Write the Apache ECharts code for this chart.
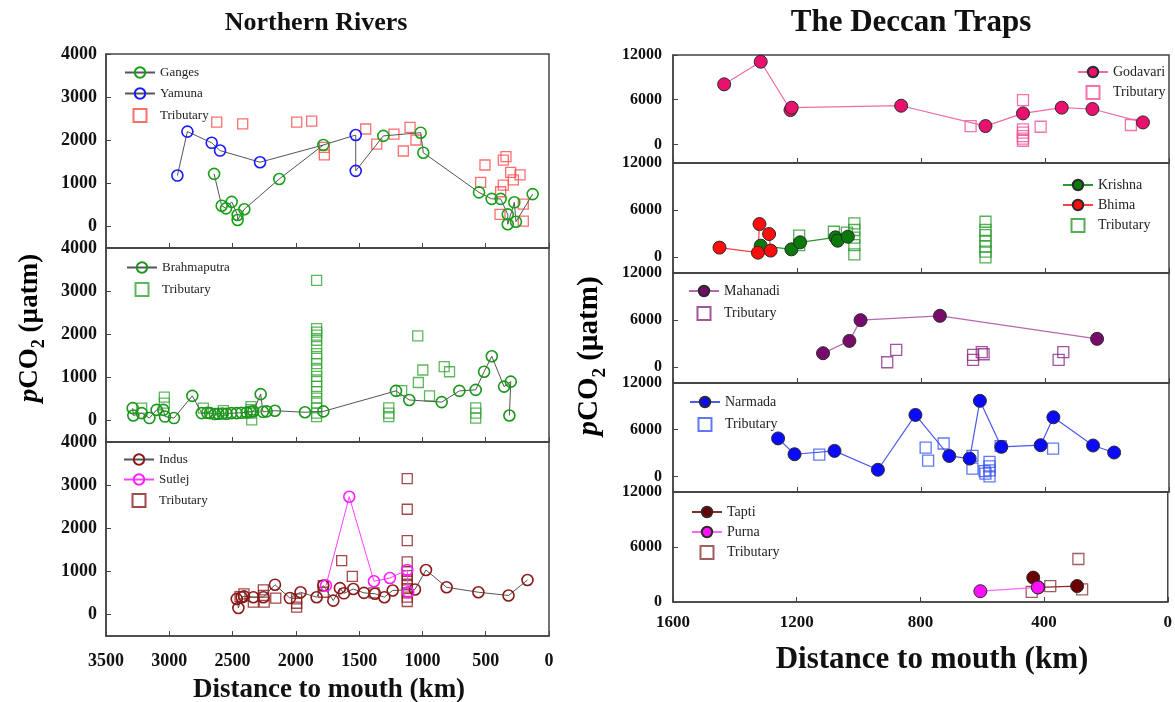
<!DOCTYPE html>
<html>
<head>
<meta charset="utf-8">
<script src="https://cdn.jsdelivr.net/npm/echarts@6/dist/echarts.min.js"></script>
<style>html,body{margin:0;padding:0;background:#fff;}#c{width:1175px;height:702px;}</style>
</head>
<body>
<div id="c"></div>
<script>
// ---------- DATA: [distance to mouth (km), pCO2 (µatm)] ----------
const gangesUpper = [[2646,1220],[2586,480],[2552,420],[2507,570],[2460,265],[2460,150],[2407,400],[2131,1100],[1783,1890]];
const gangesLower = [[1309,2100],[1014,2175],[993,1710],[553,790],[453,640],[382,640],[326,280],[326,50],[274,560],[261,110],[129,750]];
const yamuna = [[2936,1180],[2857,2200],[2665,1940],[2599,1760],[2283,1490]];
const yamunaJunctionUp = [1783,1890];
const yamunaLower = [[1527,2120],[1527,1290]];
const yamunaJunctionDown = [1309,2100];
const gangesTrib = [[2625,2420],[2420,2380],[1993,2420],[1875,2445],[1775,1835],[1775,1660],[1448,2260],[1361,1910],[1225,2140],[1151,1750],[1098,2300],[1051,2005],[540,1020],[506,1425],[382,805],[361,960],[340,1620],[361,1540],[303,1255],[229,1195],[282,1080],[387,280],[203,520],[203,125]];

const brahmaputra = [[3289,285],[3284,115],[3218,170],[3157,55],[3100,245],[3047,245],[3034,90],[2963,55],[2818,570],[2744,170],[2700,180],[2678,170],[2640,150],[2612,155],[2580,160],[2547,155],[2510,170],[2468,170],[2430,180],[2389,185],[2360,200],[2336,210],[2278,610],[2260,200],[2231,210],[2165,225],[1928,190],[1783,210],[1209,685],[1104,475],[848,425],[708,685],[579,710],[513,1130],[452,1490],[355,785],[302,900],[313,115]];
const brahTrib = [[3218,285],[3039,540],[3039,400],[2731,285],[2573,230],[2354,320],[2354,250],[2354,170],[2349,15],[1836,3250],[1836,2130],[1836,2050],[1836,1980],[1836,1860],[1836,1710],[1836,1550],[1836,1440],[1836,1320],[1836,1170],[1836,1020],[1836,900],[1836,790],[1836,670],[1836,520],[1836,400],[1836,290],[1836,170],[1836,90],[1266,290],[1266,170],[1266,90],[1164,690],[1037,1960],[1032,880],[997,1170],[944,570],[828,1250],[786,1130],[579,290],[579,170],[579,55]];

const indus = [[2467,360],[2454,150],[2428,400],[2410,420],[2336,400],[2257,400],[2165,690],[2047,380],[1963,515],[1836,400],[1783,670],[1704,320],[1652,610],[1620,490],[1546,590],[1462,500],[1375,480],[1301,400],[1235,555],[1059,580],[972,1030],[809,630],[558,515],[320,440],[170,800]];
const sutlej = [[1762,670],[1578,2730],[1383,770],[1257,845],[1120,1030],[1112,515]];
const indusTrib = [[2441,415],[2410,475],[2336,285],[2257,570],[2254,440],[2250,285],[2159,380],[1994,360],[1994,260],[1994,170],[1783,670],[1783,515],[1638,1250],[1554,885],[1383,500],[1120,3150],[1120,2440],[1120,1710],[1120,1220],[1120,1000],[1120,900],[1120,800],[1120,700],[1120,600],[1120,500],[1120,400],[1120,300]];

const godavari = [[1435,8060],[1317,11100],[1221,4610],[1217,4930],[864,5190],[592,2460],[471,4160],[346,4930],[247,4750],[84,2950]];
const godavariTrib = [[640,2460],[471,5950],[471,2010],[471,1570],[471,1120],[471,760],[471,490],[414,2370],[123,2600]];

const krishna = [[1317,1480],[1218,1010],[1190,1900],[1076,2540],[1069,2110],[1036,2620]];
const bhima = [[1450,1230],[1326,590],[1321,4230],[1290,2960],[1285,850]];
const krishnaTrib = [[1193,2750],[1193,1560],[1081,3250],[1039,3130],[1015,4310],[1015,3470],[1015,2490],[1015,1560],[1015,380],[592,4520],[592,3470],[592,2830],[592,1990],[592,1350],[592,720],[592,0]];

const mahanadi = [[1116,1790],[1031,3360],[995,6000],[739,6550],[232,3620]];
const mahanadiTrib = [[909,640],[880,2210],[632,940],[632,1570],[604,1920],[598,1660],[356,940],[341,1920]];

const narmada = [[1261,4880],[1208,2850],[1079,3280],[939,860],[818,7900],[709,2630],[643,2290],[610,9710],[541,3800],[414,4010],[373,7600],[245,3970],[177,3070]];
const narmadaTrib = [[1128,2810],[785,3710],[777,2030],[727,4230],[634,2630],[634,990],[595,690],[579,1860],[579,1300],[579,780],[579,0],[592,350],[543,3890],[374,3580]];

const tapti = [[435,2660],[419,1600],[293,1740]];
const purna = [[606,1180],[420,1590]];
const taptiTrib = [[440,1110],[380,1740],[289,4690],[277,1370]];

const leftTicksX = [0,500,1000,1500,2000,2500,3000,3500];
const leftTicksY = [0,1000,2000,3000,4000];
const rightTicksX = [0,400,800,1200,1600];
const rightTicksY = [0,6000,12000];

// ---------- LAYOUT ----------
const FONT = "'Liberation Serif','Times New Roman',serif";
const leftGrids = [{top:54,height:194},{top:248,height:194},{top:442,height:194}];
const rightGrids = [{top:55,height:108},{top:163,height:110},{top:273,height:110},{top:383,height:109},{top:492,height:110}];
const rightMins = [-2500,-2000,-2000,-2000,0];
const plain = v => String(v);

const grid = [], xAxis = [], yAxis = [];
function addPanel(g, left, width, xMax, xTicks, yMin, yMax, yTicks, showX, xfs, yfs, xMargin, yMargin){
  grid.push({left, width, top:g.top, height:g.height, show:true, borderColor:'#444', borderWidth:1.5, backgroundColor:'transparent'});
  const gi = grid.length-1;
  xAxis.push({type:'value', gridIndex:gi, position:'bottom', min:0, max:xMax, inverse:true,
    axisLine:{show:true, onZero:false, lineStyle:{color:'#444', width:1.5}},
    axisTick:{show:true, inside:true, length:5, customValues:xTicks, lineStyle:{color:'#444'}},
    axisLabel:{show:showX, customValues:xTicks, formatter:plain, fontFamily:FONT, fontWeight:'bold', fontSize:xfs, color:'#111', margin:xMargin},
    splitLine:{show:false}});
  yAxis.push({type:'value', gridIndex:gi, position:'left', min:yMin, max:yMax,
    axisLine:{show:true, onZero:false, lineStyle:{color:'#444', width:1.5}},
    axisTick:{show:true, inside:true, length:5, customValues:yTicks, lineStyle:{color:'#444'}},
    axisLabel:{customValues:yTicks, formatter:plain, fontFamily:FONT, fontWeight:'bold', fontSize:yfs, color:'#111', margin:yMargin},
    splitLine:{show:false}});
}
leftGrids.forEach((g,i)=> addPanel(g, 106, 443, 3500, leftTicksX, -500, 4000, leftTicksY, i===2, 18, 18, 16, 9));
rightGrids.forEach((g,i)=> addPanel(g, 673, 496, 1600, rightTicksX, rightMins[i], 12000, rightTicksY, i===4, 17, 16, 12, 11));

// ---------- SERIES helpers ----------
function hollowLine(name, idx, data, color, lineColor){
  return {name, type:'line', xAxisIndex:idx, yAxisIndex:idx, data, symbol:'circle', symbolSize:11,
    itemStyle:{color:'rgba(0,0,0,0)', borderColor:color, borderWidth:1.6},
    lineStyle:{color:lineColor, width:1}, connectNulls:false, emphasis:{disabled:true}, z:3};
}
function hollowSq(name, idx, data, color, size){
  return {name, type:'scatter', xAxisIndex:idx, yAxisIndex:idx, data, symbol:'rect', symbolSize:size||10,
    itemStyle:{color:'rgba(0,0,0,0)', borderColor:color, borderWidth:1.3}, emphasis:{disabled:true}, z:2};
}
function filledLine(name, idx, data, color, lineColor){
  return {name, type:'line', xAxisIndex:idx, yAxisIndex:idx, data, symbol:'circle', symbolSize:13,
    itemStyle:{color:color, borderColor:'#2a2a2a', borderWidth:1},
    lineStyle:{color:lineColor, width:1.2}, emphasis:{disabled:true}, z:3};
}

const GRAY = '#555';
const yamunaFull = yamuna.concat([{value:yamunaJunctionUp, symbol:'none'}], yamunaLower, [{value:yamunaJunctionDown, symbol:'none'}]);
const gangesFull = gangesUpper.concat([['-','-']], gangesLower);

const series = [
  hollowSq('Tributary#1', 0, gangesTrib, '#ff4a4a'),
  hollowLine('Ganges', 0, gangesFull, '#18a018', GRAY),
  hollowLine('Yamuna', 0, yamunaFull, '#1a1aff', GRAY),

  hollowSq('Tributary#2', 1, brahTrib, '#35a535'),
  hollowLine('Brahmaputra', 1, brahmaputra, '#1a961a', GRAY),

  hollowSq('Tributary#3', 2, indusTrib, '#8b1c1c'),
  hollowLine('Indus', 2, indus, '#8b1a1a', GRAY),
  hollowLine('Sutlej', 2, sutlej, '#ff1eff', '#ff40ff'),

  hollowSq('Tributary#4', 3, godavariTrib, '#f0509a', 11),
  filledLine('Godavari', 3, godavari, '#e8126e', '#f06aa6'),

  hollowSq('Tributary#5', 4, krishnaTrib, '#2a9a2a', 11),
  filledLine('Krishna', 4, krishna, '#0a7a0a', '#2a9a2a'),
  filledLine('Bhima', 4, bhima, '#ff0d0d', '#ff4040'),

  hollowSq('Tributary#6', 5, mahanadiTrib, '#8a2a86', 11),
  filledLine('Mahanadi', 5, mahanadi, '#780a6c', '#b46aac'),

  hollowSq('Tributary#7', 6, narmadaTrib, '#3a55f0', 11),
  filledLine('Narmada', 6, narmada, '#0a0aff', '#4a5aee'),

  hollowSq('Tributary#8', 7, taptiTrib, '#8b3535', 11),
  filledLine('Tapti', 7, tapti, '#6a0000', '#8b2a2a'),
  filledLine('Purna', 7, purna, '#ff10ff', '#ff66ff')
];

const SQ = 'path://M0,0L10,0L10,10L0,10Z';
function lg(left, top, names, fs, ih, gap){
  const data = names.map(n => n.startsWith('Tributary') ? {name:n, icon:SQ} : n);
  return {orient:'vertical', left, top, data, itemWidth:30, itemHeight:ih, itemGap:gap, selectedMode:false, symbolKeepAspect:true,
    textStyle:{fontFamily:FONT, fontSize:fs, color:'#222'}, formatter:n=>n.split('#')[0]};
}
const legend = [
  lg(119, 61, ['Ganges','Yamuna','Tributary#1'], 13, 13, 8),
  lg(121, 256, ['Brahmaputra','Tributary#2'], 13, 13, 8),
  lg(118, 448, ['Indus','Sutlej','Tributary#3'], 13, 13, 7),
  lg(1072, 60, ['Godavari','Tributary#4'], 14, 13, 6),
  lg(1057, 173, ['Krishna','Bhima','Tributary#5'], 14, 13, 6),
  lg(683, 279, ['Mahanadi','Tributary#6'], 14, 13, 8),
  lg(684, 390, ['Narmada','Tributary#7'], 14, 13, 8),
  lg(686, 500, ['Tapti','Purna','Tributary#8'], 14, 13, 6)
];

const yTitleRich = (fs)=>({
  i:{fontFamily:FONT, fontSize:fs, fontWeight:'bold', fontStyle:'italic', color:'#111', lineHeight:fs+10},
  n:{fontFamily:FONT, fontSize:fs, fontWeight:'bold', color:'#111', lineHeight:fs+10},
  s:{fontFamily:FONT, fontSize:Math.round(fs*0.65), fontWeight:'bold', color:'#111', lineHeight:Math.round(fs*0.65), verticalAlign:'bottom'}
});
const graphic = [
  {type:'text', x:316, y:23, style:{text:'Northern Rivers', font:`bold 26px ${FONT}`, fill:'#111', textAlign:'center', textVerticalAlign:'middle'}},
  {type:'text', x:911, y:23, style:{text:'The Deccan Traps', font:`bold 31px ${FONT}`, fill:'#111', textAlign:'center', textVerticalAlign:'middle'}},
  {type:'text', x:329, y:690, style:{text:'Distance to mouth (km)', font:`bold 27px ${FONT}`, fill:'#111', textAlign:'center', textVerticalAlign:'middle'}},
  {type:'text', x:932, y:660, style:{text:'Distance to mouth (km)', font:`bold 31px ${FONT}`, fill:'#111', textAlign:'center', textVerticalAlign:'middle'}},
  {type:'text', x:30, y:328, rotation:Math.PI/2, style:{text:'{i|p}{n|CO}{s|2}{n| (µatm)}', rich:yTitleRich(27), textAlign:'center', textVerticalAlign:'middle'}},
  {type:'text', x:590, y:356, rotation:Math.PI/2, style:{text:'{i|p}{n|CO}{s|2}{n| (µatm)}', rich:yTitleRich(29), textAlign:'center', textVerticalAlign:'middle'}}
];

const chart = echarts.init(document.getElementById('c'), null, {renderer:'canvas'});
chart.setOption({animation:false, backgroundColor:'#fff', grid, xAxis, yAxis, series, legend, graphic});
</script>
</body>
</html>
